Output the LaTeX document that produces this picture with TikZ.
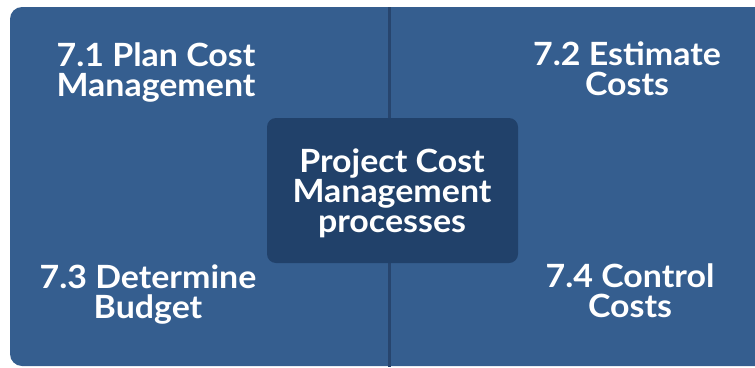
\documentclass[tikz,border=0pt]{standalone}
\usepackage{fontspec}
\setmainfont{Lato}[FakeStretch=1.06]
\definecolor{mainblue}{HTML}{355E8F}
\definecolor{darkblue}{HTML}{21416A}
\definecolor{lineblue}{HTML}{27456E}
\begin{document}
\begin{tikzpicture}[x=1pt,y=-1pt,
  lbl/.style={text=white,font=\fontsize{32}{30}\selectfont\bfseries,align=center,anchor=base,inner sep=0pt}]
\useasboundingbox (0,0) rectangle (755,367);
\begin{scope}
\clip (0,0) rectangle (755,367);
\fill[mainblue,rounded corners=12pt] (10,7) rectangle (790,366);
\end{scope}
\coordinate (vtop) at (389,7);
\coordinate (vbot) at (389,367);
\draw[lineblue,line width=3pt] (vtop) -- (vbot);
\node[fill=darkblue,rounded corners=9pt,minimum width=251pt,minimum height=145pt,inner sep=0pt] (center) at (392.5,190.5) {};
\node[lbl] (c) at (392,232) {Project Cost\\Management\\processes};
\node[lbl] (p1) at (156,96) {7.1 Plan Cost\\Management};
\node[lbl] (p2) at (627,95) {7.2 Estimate\\Costs};
\node[lbl] (p3) at (148,318) {7.3 Determine\\Budget};
\node[lbl] (p4) at (630,317) {7.4 Control\\Costs};
\end{tikzpicture}
\end{document}
